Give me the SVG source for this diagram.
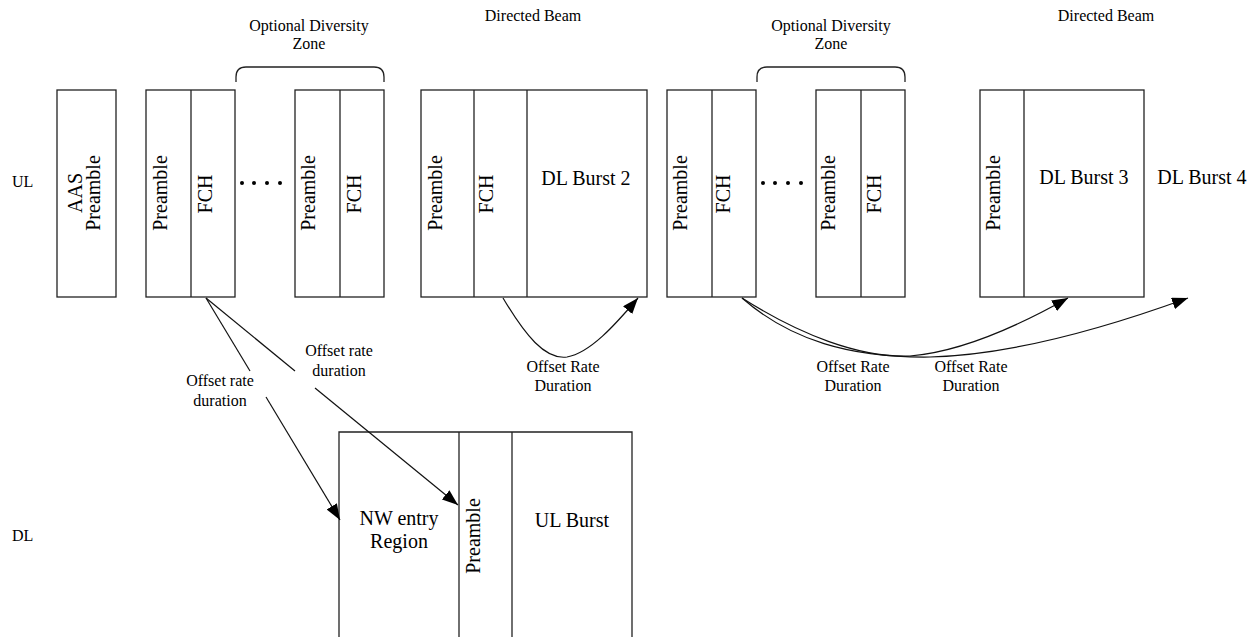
<svg xmlns="http://www.w3.org/2000/svg" width="1249" height="637" viewBox="0 0 1249 637">
<defs>
<style>
.box{fill:#fff;stroke:#222;stroke-width:1.3}
.div{stroke:#222;stroke-width:1.3;fill:none}
.big{font-family:"Liberation Serif","Times New Roman",serif;font-size:20px;fill:#000}
.sm{font-family:"Liberation Serif","Times New Roman",serif;font-size:16px;fill:#000}
.c{text-anchor:middle}
.ln{stroke:#111;stroke-width:1.2;fill:none}
.dot{fill:#000}
</style>
<marker id="ah" viewBox="0 0 16 12" refX="16" refY="6" markerWidth="16" markerHeight="12" markerUnits="userSpaceOnUse" orient="auto">
<path d="M0,0 L16,6 L0,12 z" fill="#000"/>
</marker>
</defs>
<rect width="1249" height="637" fill="#fff"/>

<g id="labels">
<text class="sm" x="12" y="187">UL</text>
<text class="sm" x="12" y="541">DL</text>
<text class="sm c" x="309" y="31">Optional Diversity</text>
<text class="sm c" x="309" y="49">Zone</text>
<text class="sm c" x="533" y="21">Directed Beam</text>
<text class="sm c" x="831" y="31">Optional Diversity</text>
<text class="sm c" x="831" y="49">Zone</text>
<text class="sm c" x="1106" y="21">Directed Beam</text>
</g>

<g id="bracket1"><path class="div" d="M236,82 V77 Q236,67 246,67 H374 Q384,67 384,77 V82"/></g>
<g id="bracket2"><path class="div" d="M757,82 V77 Q757,67 767,67 H895 Q905,67 905,77 V82"/></g>

<g id="aas">
<rect class="box" x="57" y="90" width="59" height="207"/>
<text class="big c" transform="translate(82,193) rotate(-90)">AAS</text>
<text class="big c" transform="translate(100,193) rotate(-90)">Preamble</text>
</g>

<g id="group1">
<rect class="box" x="146" y="90" width="89" height="207"/>
<line class="div" x1="191" y1="90" x2="191" y2="297"/>
<text class="big c" transform="translate(167,193) rotate(-90)">Preamble</text>
<text class="big c" transform="translate(212,194) rotate(-90)">FCH</text>
</g>

<g id="dots1">
<circle class="dot" cx="242" cy="183" r="2"/><circle class="dot" cx="254" cy="183" r="2"/>
<circle class="dot" cx="267" cy="183" r="2"/><circle class="dot" cx="280" cy="183" r="2"/>
</g>

<g id="group2">
<rect class="box" x="295" y="90" width="89" height="207"/>
<line class="div" x1="340" y1="90" x2="340" y2="297"/>
<text class="big c" transform="translate(315,193) rotate(-90)">Preamble</text>
<text class="big c" transform="translate(361,194) rotate(-90)">FCH</text>
</g>

<g id="beam1">
<rect class="box" x="421" y="90" width="226" height="207"/>
<line class="div" x1="474" y1="90" x2="474" y2="297"/>
<line class="div" x1="527" y1="90" x2="527" y2="297"/>
<text class="big c" transform="translate(442,193) rotate(-90)">Preamble</text>
<text class="big c" transform="translate(493,194) rotate(-90)">FCH</text>
<text class="big c" x="586" y="185">DL Burst 2</text>
</g>

<g id="group3">
<rect class="box" x="667" y="90" width="89" height="207"/>
<line class="div" x1="712" y1="90" x2="712" y2="297"/>
<text class="big c" transform="translate(687,193) rotate(-90)">Preamble</text>
<text class="big c" transform="translate(730,194) rotate(-90)">FCH</text>
</g>

<g id="dots2">
<circle class="dot" cx="763" cy="183" r="2"/><circle class="dot" cx="775" cy="183" r="2"/>
<circle class="dot" cx="788" cy="183" r="2"/><circle class="dot" cx="801" cy="183" r="2"/>
</g>

<g id="group4">
<rect class="box" x="816" y="90" width="89" height="207"/>
<line class="div" x1="861" y1="90" x2="861" y2="297"/>
<text class="big c" transform="translate(835,193) rotate(-90)">Preamble</text>
<text class="big c" transform="translate(881,194) rotate(-90)">FCH</text>
</g>

<g id="beam2">
<rect class="box" x="980" y="90" width="164" height="207"/>
<line class="div" x1="1024" y1="90" x2="1024" y2="297"/>
<text class="big c" transform="translate(1000,193) rotate(-90)">Preamble</text>
<text class="big c" x="1084" y="184">DL Burst 3</text>
</g>

<g id="burst4">
<text class="big c" x="1202" y="184">DL Burst 4</text>
</g>

<g id="dlframe">
<path class="box" d="M339,640 V432 H632 V640"/>
<line class="div" x1="459" y1="432" x2="459" y2="640"/>
<line class="div" x1="512" y1="432" x2="512" y2="640"/>
<text class="big c" x="399" y="525">NW entry</text>
<text class="big c" x="399" y="548">Region</text>
<text class="big c" transform="translate(480,536) rotate(-90)">Preamble</text>
<text class="big c" x="572" y="527">UL Burst</text>
</g>

<g id="connectors">
<line class="ln" x1="206" y1="298" x2="250" y2="371"/>
<line class="ln" x1="266" y1="397" x2="340" y2="520" marker-end="url(#ah)"/>
<line class="ln" x1="206" y1="298" x2="295" y2="371"/>
<line class="ln" x1="315" y1="388" x2="458" y2="505" marker-end="url(#ah)"/>
<path class="ln" d="M503,298 C525,335 545,360 567,357 C590,353 615,325 638,298" marker-end="url(#ah)"/>
<path class="ln" d="M742,298 C800,335 860,358 910,356 C960,352 1020,325 1068,298" marker-end="url(#ah)"/>
<path class="ln" d="M742,298 C790,340 850,358 930,357 C1010,355 1100,330 1188,298" marker-end="url(#ah)"/>
</g>

<g id="conn-labels">
<text class="sm c" x="220" y="386">Offset rate</text>
<text class="sm c" x="220" y="406">duration</text>
<text class="sm c" x="339" y="356">Offset rate</text>
<text class="sm c" x="339" y="376">duration</text>
<text class="sm c" x="563" y="372">Offset Rate</text>
<text class="sm c" x="563" y="391">Duration</text>
<text class="sm c" x="853" y="372">Offset Rate</text>
<text class="sm c" x="853" y="391">Duration</text>
<text class="sm c" x="971" y="372">Offset Rate</text>
<text class="sm c" x="971" y="391">Duration</text>
</g>
</svg>
